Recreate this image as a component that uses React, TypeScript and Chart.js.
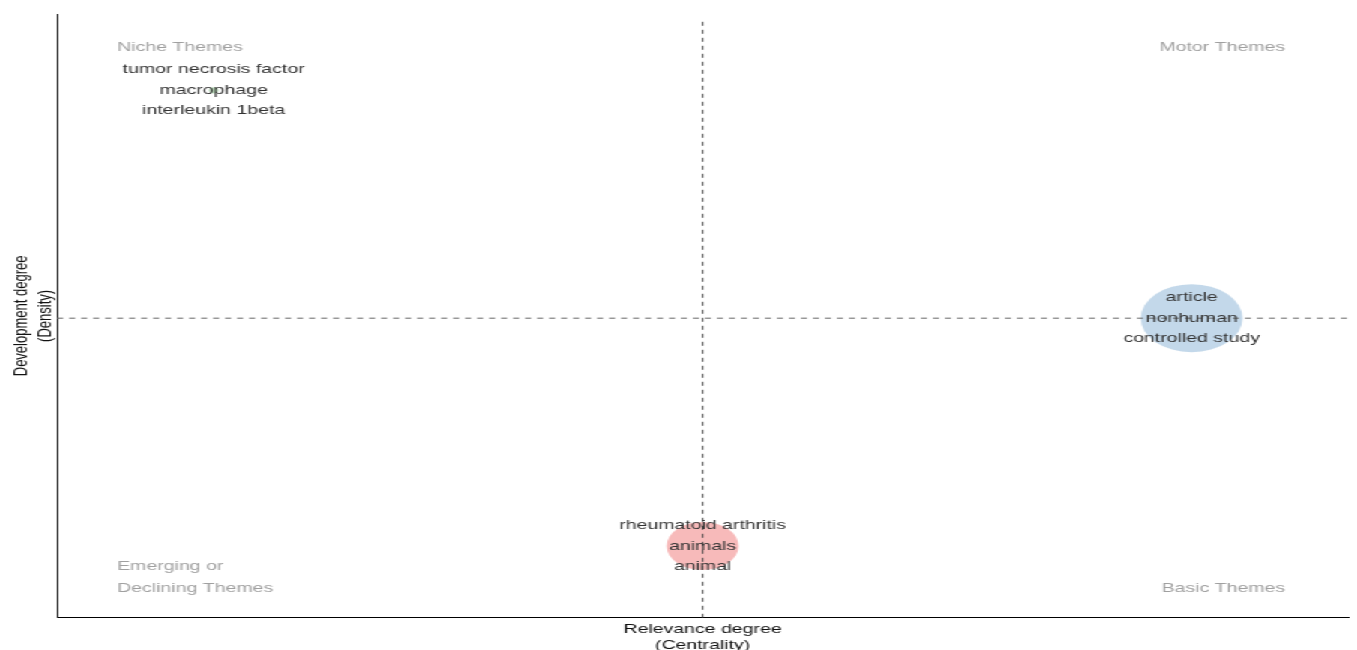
import React, { useEffect, useRef } from "react";
import { Chart, registerables } from "chart.js";

Chart.register(...registerables);

// ---- data ----
const clusterNames = ["macrophage", "nonhuman", "animals"];
const centralityRank = [1, 3, 2];
const densityRank = [3, 2, 1];
const clusterFreq = [1, 120, 60];
const clusterWords = [
  ["tumor necrosis factor", "macrophage", "interleukin 1beta"],
  ["article", "nonhuman", "controlled study"],
  ["rheumatoid arthritis", "animals", "animal"],
];
const clusterColors = [
  "rgba(77,175,74,0.35)",
  "rgba(55,126,184,0.3)",
  "rgba(228,26,28,0.3)",
];
const quadrantNiche = "Niche Themes";
const quadrantMotor = "Motor Themes";
const quadrantEmerging = ["Emerging or", "Declining Themes"];
const quadrantBasic = "Basic Themes";
const xTitle = ["Relevance degree", "(Centrality)"];
const yTitle = ["Development degree", "(Density)"];
const xRange = [0.68, 3.32];
const yRange = [0.685, 3.335];

const FONT = "'Liberation Sans', Arial, sans-serif";
const BASE_W = 905;
const BASE_H = 650;
const STRETCH = 1357 / BASE_W;

const meanX = centralityRank.reduce((a, b) => a + b, 0) / centralityRank.length;
const meanY = densityRank.reduce((a, b) => a + b, 0) / densityRank.length;

const labelPlugin = {
  id: "clusterLabels",
  afterDatasetsDraw(chart: any) {
    const ctx = chart.ctx;
    const ca = chart.chartArea;
    const meta = chart.getDatasetMeta(2);
    ctx.save();
    ctx.font = `13px ${FONT}`;
    ctx.textBaseline = "middle";
    ctx.textAlign = "center";
    ctx.fillStyle = "#333333";
    meta.data.forEach((el: any, i: number) => {
      const words = clusterWords[i];
      words.forEach((w, j) => {
        ctx.fillText(w, el.x, el.y + (j - (words.length - 1) / 2) * 20.5);
      });
    });
    ctx.fillStyle = "#a0a0a0";
    ctx.textAlign = "left";
    ctx.fillText(quadrantNiche, ca.left + 40, ca.top + 33);
    ctx.fillText(quadrantEmerging[0], ca.left + 40, ca.bottom - 51);
    ctx.fillText(quadrantEmerging[1], ca.left + 40, ca.bottom - 29);
    ctx.textAlign = "right";
    ctx.fillText(quadrantMotor, ca.right - 42, ca.top + 33);
    ctx.fillText(quadrantBasic, ca.right - 42, ca.bottom - 29);
    ctx.restore();
  },
};

export default function App() {
  const ref = useRef<HTMLCanvasElement | null>(null);

  useEffect(() => {
    if (!ref.current) return;
    const chart = new Chart(ref.current, {
      type: "bubble",
      data: {
        datasets: [
          {
            type: "line",
            label: "mean centrality",
            data: [
              { x: meanX, y: yRange[0] },
              { x: meanX, y: yRange[1] - 0.02 },
            ],
            borderColor: "#444444",
            borderWidth: 1,
            borderDash: [4, 4],
            pointRadius: 0,
            fill: false,
          } as any,
          {
            type: "line",
            label: "mean density",
            data: [
              { x: xRange[0], y: meanY },
              { x: xRange[1], y: meanY },
            ],
            borderColor: "#666666",
            borderWidth: 1,
            borderDash: [4, 4],
            pointRadius: 0,
            fill: false,
          } as any,
          {
            label: "clusters",
            data: clusterNames.map((_, i) => ({
              x: centralityRank[i],
              y: densityRank[i],
              r: Math.sqrt(clusterFreq[i]) * 3.1,
            })),
            backgroundColor: clusterColors,
            borderWidth: 0,
          },
        ],
      },
      options: {
        responsive: false,
        maintainAspectRatio: false,
        animation: false,
        devicePixelRatio: 1,
        layout: { autoPadding: false, padding: { left: 7, right: 6, top: 14, bottom: 0 } },
        plugins: {
          legend: { display: false },
          tooltip: { enabled: false },
        },
        scales: {
          x: {
            type: "linear",
            min: xRange[0],
            max: xRange[1],
            grid: { display: false, drawTicks: false },
            ticks: { display: false },
            border: { display: true, color: "#000000", width: 1 },
            title: {
              display: true,
              text: xTitle,
              color: "#111111",
              font: { family: FONT, size: 13 },
              padding: { top: 4, bottom: -3 },
            },
          },
          y: {
            type: "linear",
            min: yRange[0],
            max: yRange[1],
            grid: { display: false, drawTicks: false },
            ticks: { display: false },
            border: { display: true, color: "#000000", width: 1 },
            title: {
              display: true,
              text: yTitle,
              color: "#111111",
              font: { family: FONT, size: 13 },
              padding: { top: 0, bottom: 0 },
            },
          },
        },
      },
      plugins: [labelPlugin],
    });
    return () => chart.destroy();
  }, []);

  return (
    <div
      style={{
        position: "absolute",
        left: 0,
        top: 0,
        width: BASE_W,
        height: BASE_H,
        transform: `scaleX(${STRETCH})`,
        transformOrigin: "0 0",
        background: "#ffffff",
      }}
    >
      <canvas ref={ref} width={BASE_W} height={BASE_H} />
    </div>
  );
}
